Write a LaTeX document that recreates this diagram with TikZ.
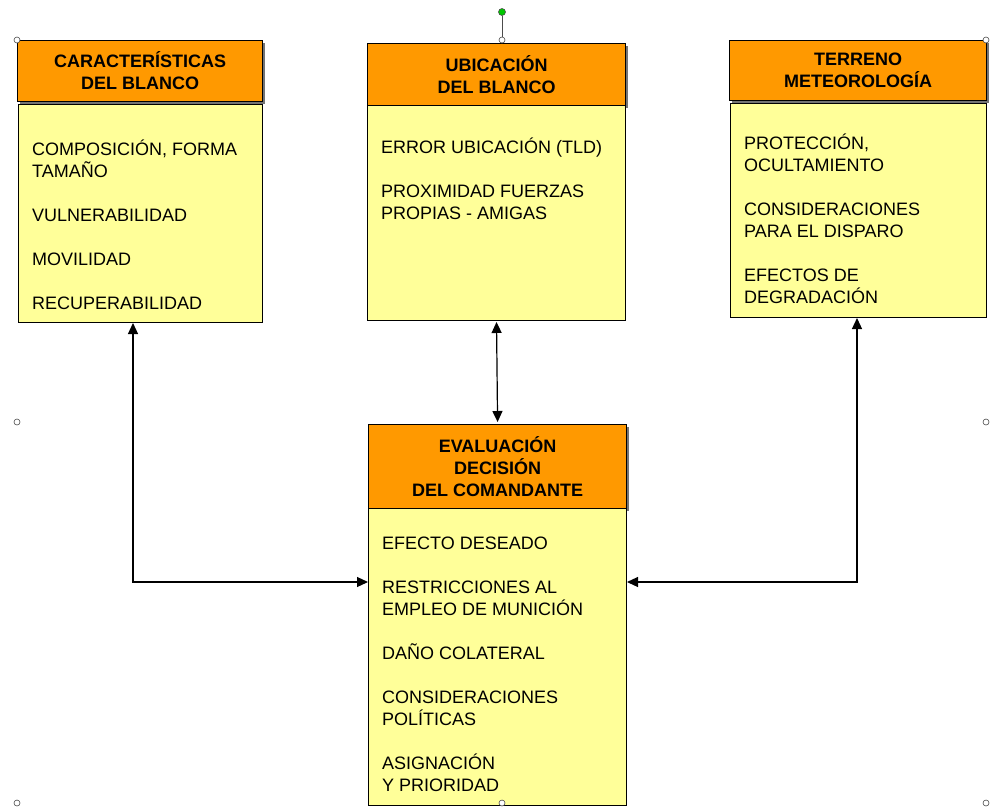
\documentclass[tikz,border=0pt]{standalone}
\usepackage{fontspec}
\setmainfont{Liberation Sans}
\usetikzlibrary{arrows.meta, calc, shadows}
\definecolor{headorange}{RGB}{255, 153, 0}
\definecolor{bodyyellow}{RGB}{255, 255, 153}
\definecolor{handlegreen}{RGB}{0, 200, 0}
\newcommand{\topstrut}{\rule{0pt}{17pt}}

\begin{document}
\begin{tikzpicture}[x=1pt, y=-1pt,
    head/.style={draw=black, line width=1.2pt, fill=headorange, anchor=north west, inner sep=0pt, align=center,
        font=\fontsize{18}{22}\selectfont\bfseries,
        drop shadow={shadow xshift=2pt, shadow yshift=-2pt, fill=black!55, opacity=1}},
    body/.style={draw=black, line width=1pt, fill=bodyyellow, anchor=north west, inner sep=0pt},
    items/.style={anchor=north west, inner sep=0pt, align=left, font=\fontsize{18}{22}\selectfont},
    link/.style={line width=1.2pt, {Triangle[length=11pt, width=10pt]}-{Triangle[length=11pt, width=10pt]}},
    handle/.style={circle, draw=black!70, fill=white, line width=0.6pt, inner sep=0pt, minimum size=6pt}]
    \useasboundingbox (0,0) rectangle (991,807);

    % Características del blanco
    \node[head, minimum width=245pt, minimum height=61pt] (carH) at (17,40) {CARACTERÍSTICAS\\DEL BLANCO};
    \node[body, minimum width=244pt, minimum height=218pt] (carB) at (18,104) {};
    \node[items] (carT) at ($(carB.north west)+(14,34)$) {\topstrut COMPOSICIÓN, FORMA\\TAMAÑO\\[22pt]VULNERABILIDAD\\[22pt]MOVILIDAD\\[22pt]RECUPERABILIDAD};

    % Ubicación del blanco
    \node[head, minimum width=258pt, minimum height=62pt] (ubiH) at (367,43) {UBICACIÓN\\DEL BLANCO};
    \node[body, minimum width=258pt, minimum height=215pt] (ubiB) at (367,105) {};
    \node[items] (ubiT) at ($(ubiB.north west)+(14,31)$) {\topstrut ERROR UBICACIÓN (TLD)\\[22pt]PROXIMIDAD FUERZAS\\PROPIAS - AMIGAS};

    % Terreno / meteorología
    \node[head, minimum width=257pt, minimum height=60pt] (terH) at (729,40) {TERRENO\\METEOROLOGÍA};
    \node[body, minimum width=256pt, minimum height=214pt] (terB) at (730,103) {};
    \node[items] (terT) at ($(terB.north west)+(14,29)$) {\topstrut PROTECCIÓN,\\OCULTAMIENTO\\[22pt]CONSIDERACIONES\\PARA EL DISPARO\\[22pt]EFECTOS DE\\DEGRADACIÓN};

    % Evaluación / decisión del comandante
    \node[head, minimum width=258pt, minimum height=84pt] (evaH) at (368,424) {EVALUACIÓN\\DECISIÓN\\DEL COMANDANTE};
    \node[body, minimum width=258pt, minimum height=297pt] (evaB) at (368,508) {};
    \node[items] (evaT) at ($(evaB.north west)+(14,24)$) {\topstrut EFECTO DESEADO\\[22pt]RESTRICCIONES AL\\EMPLEO DE MUNICIÓN\\[22pt]DAÑO COLATERAL\\[22pt]CONSIDERACIONES\\POLÍTICAS\\[22pt]ASIGNACIÓN\\Y PRIORIDAD};

    % flechas
    \coordinate (bendL) at (133,582);
    \coordinate (bendR) at (857,582);
    \draw[link] (carB.south -| bendL) -- (bendL) -- (bendL -| evaB.west);
    \draw[link] (terB.south -| bendR) -- (bendR) -- (bendR -| evaB.east);
    \draw[link, shorten <=1pt, shorten >=2pt] (ubiB.south) -- (evaH.north);

    % marcas de selección
    \foreach \hx/\hy in {17/40, 502/40, 986/40, 17/422, 986/422, 17/803, 502/803, 986/803}
        \node[handle] at (\hx,\hy) {};
    \node[handle, fill=handlegreen, minimum size=7pt] (rot) at (502,12) {};
    \draw[line width=0.6pt, black!70] (rot) -- (502,37);
\end{tikzpicture}
\end{document}
